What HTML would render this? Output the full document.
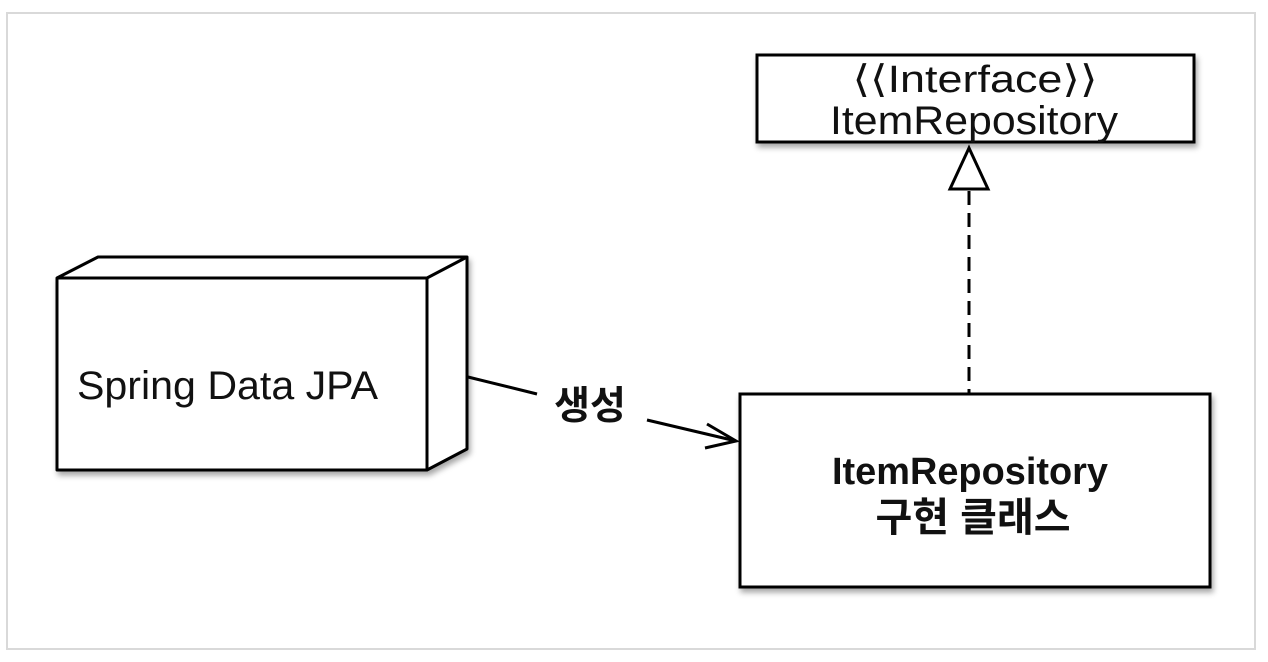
<!DOCTYPE html>
<html><head><meta charset="utf-8"><style>
html,body{margin:0;padding:0;background:#fff;}
svg{display:block;}
text{font-family:"Liberation Sans","Noto Sans CJK KR",sans-serif;fill:#111;}
</style></head><body>
<svg width="1268" height="662" viewBox="0 0 1268 662" xmlns="http://www.w3.org/2000/svg">
<defs><filter id="sh" x="-5%" y="-5%" width="115%" height="120%"><feDropShadow dx="2" dy="4" stdDeviation="3" flood-color="#000" flood-opacity="0.35"/></filter></defs>
<rect x="7" y="13" width="1248" height="636" fill="#fff" stroke="#d9d9d9" stroke-width="2"/>
<g stroke="#000" stroke-width="3" fill="#fff" stroke-linejoin="round">
<polygon points="57,278 98,257 467,257 467,449 427,470 57,470" filter="url(#sh)"/>
<polyline points="57,278 427,278 467,257" fill="none"/>
<line x1="427" y1="278" x2="427" y2="470"/>
</g>
<text x="77" y="399" font-size="40" textLength="301" lengthAdjust="spacingAndGlyphs">Spring Data JPA</text>
<rect x="757" y="55" width="437" height="87" fill="#fff" stroke="#000" stroke-width="3" filter="url(#sh)"/>
<text x="975" y="92" font-size="38" text-anchor="middle" textLength="245" lengthAdjust="spacingAndGlyphs">⟨⟨Interface⟩⟩</text>
<text x="974" y="134" font-size="40" text-anchor="middle" textLength="288" lengthAdjust="spacingAndGlyphs">ItemRepository</text>
<line x1="969" y1="191" x2="969" y2="406" stroke="#000" stroke-width="3" stroke-dasharray="14,8"/>
<polygon points="969,148 950,189 988,189" fill="#fff" stroke="#000" stroke-width="3"/>
<rect x="740" y="394" width="470" height="193" fill="#fff" stroke="#000" stroke-width="3" filter="url(#sh)"/>
<text x="970" y="484" font-size="38" font-weight="bold" text-anchor="middle" textLength="276" lengthAdjust="spacingAndGlyphs">ItemRepository</text>
<text x="973" y="531" font-size="40" font-weight="bold" text-anchor="middle">구현 클래스</text>
<text x="590" y="419" font-size="39" font-weight="bold" text-anchor="middle">생성</text>
<line x1="468" y1="377" x2="537" y2="394" stroke="#000" stroke-width="3"/>
<line x1="647" y1="420" x2="736" y2="441" stroke="#000" stroke-width="3"/>
<polyline points="707,424 736,441 705,448" fill="none" stroke="#000" stroke-width="3"/>
</svg>
</body></html>
